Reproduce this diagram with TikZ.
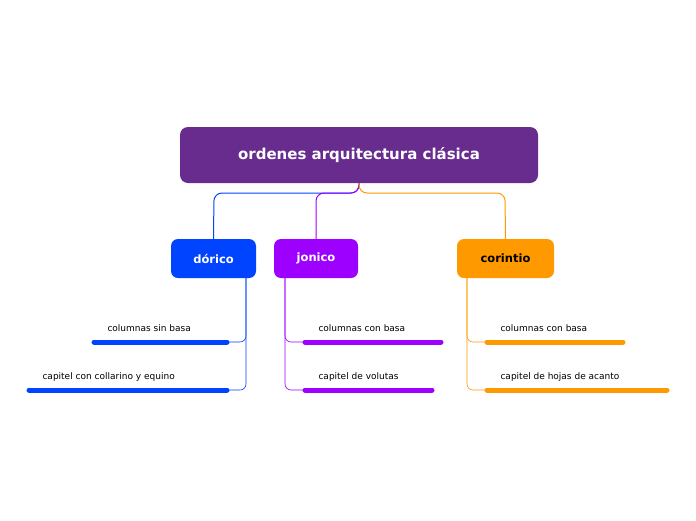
\documentclass[tikz,border=0pt]{standalone}
\usepackage{fontspec}
\setmainfont{DejaVu Sans}
\definecolor{cRoot}{HTML}{682C8F}
\definecolor{cBlue}{HTML}{0044FF}
\definecolor{cPurp}{HTML}{9D00FF}
\definecolor{cOrng}{HTML}{FF9900}
\begin{document}
\begin{tikzpicture}[x=1pt,y=-1pt,
  topic/.style={rounded corners=7pt,minimum height=39pt,inner sep=0pt,font=\bfseries\fontsize{11.5}{13}\selectfont},
  conn/.style={line width=1pt,rounded corners=8pt},
  sub/.style={line width=0.6pt,rounded corners=6pt},
  bar/.style={line width=5pt,line cap=round},
  lbl/.style={font=\fontsize{9}{11}\selectfont,anchor=base west}]
\useasboundingbox (0,0) rectangle (696,520);
\node[fill=cRoot,rounded corners=8pt,minimum width=358pt,minimum height=56pt,text=white,font=\bfseries\fontsize{15}{18}\selectfont] (root) at (359,155) {ordenes arquitectura clásica};
\node[topic,fill=cBlue,text=white,minimum width=85pt] (dor) at (213.5,258.5) {dórico};
\node[topic,fill=cPurp,text=white,minimum width=84pt] (jon) at (316,258.5) {jonico};
\node[topic,fill=cOrng,text=black,minimum width=97pt] (cor) at (505.5,258.5) {corintio};
\coordinate (rb) at (359,183);
\draw[conn,cBlue] (rb) |- (214,193) -- (dor.north);
\draw[conn,cPurp] (rb) |- (316,193) -- (jon.north);
\draw[conn,cOrng] (rb) |- (505,193) -- (cor.north);
% dorico
\coordinate (d1a) at (94,342); \coordinate (d1b) at (227,342);
\coordinate (d2a) at (29,390); \coordinate (d2b) at (227,390);
\draw[sub,cBlue] (246,278) |- (d1b);
\draw[sub,cBlue] (246,278) |- (d2b);
\draw[bar,cBlue] (d1a) -- (d1b); \draw[bar,cBlue] (d2a) -- (d2b);
\node[lbl] (t1) at (104,331) {columnas sin basa};
\node[lbl] (t2) at (39,379) {capitel con collarino y equino};
% jonico
\coordinate (j1a) at (305,342); \coordinate (j1b) at (441,342);
\coordinate (j2a) at (305,390); \coordinate (j2b) at (432,390);
\draw[sub,cPurp] (285,278) |- (j1a);
\draw[sub,cPurp] (285,278) |- (j2a);
\draw[bar,cPurp] (j1a) -- (j1b); \draw[bar,cPurp] (j2a) -- (j2b);
\node[lbl] (t3) at (315,331) {columnas con basa};
\node[lbl] (t4) at (315,379) {capitel de volutas};
% corintio
\coordinate (c1a) at (487,342); \coordinate (c1b) at (623,342);
\coordinate (c2a) at (487,390); \coordinate (c2b) at (667,390);
\draw[sub,cOrng] (467,278) |- (c1a);
\draw[sub,cOrng] (467,278) |- (c2a);
\draw[bar,cOrng] (c1a) -- (c1b); \draw[bar,cOrng] (c2a) -- (c2b);
\node[lbl] (t5) at (497,331) {columnas con basa};
\node[lbl] (t6) at (497,379) {capitel de hojas de acanto};
\end{tikzpicture}
\end{document}
